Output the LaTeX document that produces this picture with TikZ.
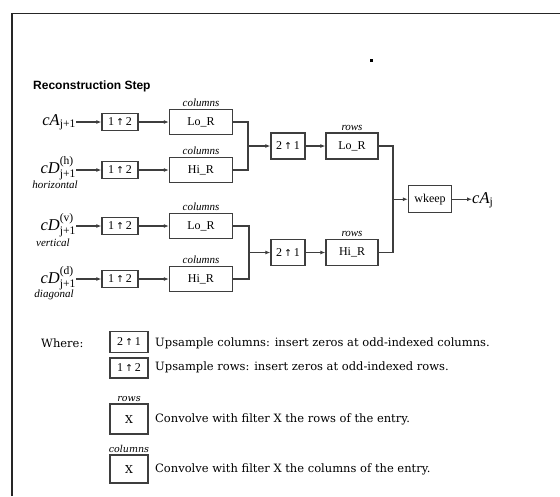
\documentclass[tikz,border=0pt]{standalone}
\usepackage{amsmath}
\usepackage{fontspec}
\setmainfont{Liberation Serif}
\setsansfont{Liberation Sans}
\newfontfamily\legfont{DejaVu Serif}
\newfontfamily\arrfont{DejaVu Sans}
\usetikzlibrary{arrows.meta,positioning,calc}
\definecolor{colTrait}{RGB}{62,62,62}
\newcommand{\upsm}[2]{#1\,{\arrfont\fontsize{9.5}{9.5}\selectfont ↑}\,#2}
\newcommand{\coefA}[2]{\textit{c#1}$_{\text{#2}}$}
\newcommand{\coefD}[2]{\textit{cD}$^{\text{(#1)}}_{\text{#2}}$}

\begin{document}
\begin{tikzpicture}[x=1pt,y=-1pt,
    font=\fontsize{11.5}{13}\selectfont,
    flt/.style={rectangle, draw=colTrait, line width=1.3pt, inner sep=0pt,
      minimum width=63pt, minimum height=25pt, font=\fontsize{12}{13}\selectfont},
    ups/.style={rectangle, draw=colTrait, line width=1.3pt, inner sep=0pt,
      minimum width=36pt, minimum height=17pt, font=\fontsize{12}{13}\selectfont},
    coef/.style={anchor=base east, inner sep=0pt, font=\fontsize{16.5}{18}\selectfont},
    sub/.style={font=\itshape\fontsize{11}{12}\selectfont, inner sep=0pt},
    lbl/.style={font=\itshape\fontsize{11}{12}\selectfont, inner sep=0pt,
      anchor=south, yshift=2pt},
    ln/.style={colTrait, line width=1.3pt},
    fl/.style={ln, -{Latex[length=5pt,width=4pt]}},
    leg/.style={font=\legfont\fontsize{11.5}{13}\selectfont, anchor=west, inner sep=0pt}]
  \useasboundingbox (0,0) rectangle (560,496);
  % cadre
  \draw[line width=1.5pt, black!85] (12,496) -- (12,13.5) -- (560,13.5);
  \fill (370,59) rectangle (372.5,61.5);
  \node[font=\sffamily\bfseries\fontsize{12}{14}\selectfont, anchor=west,
    inner sep=0pt] (titre) at (33,86) {Reconstruction Step};

  % entrees
  \node[coef] (inA) at (76,125) {\coefA{A}{j+1}};
  \node[coef] (inH) at (76,173) {\coefD{h}{j+1}};
  \node[coef] (inV) at (76,230) {\coefD{v}{j+1}};
  \node[coef] (inD) at (76,283) {\coefD{d}{j+1}};
  \node[sub] (tH) at (55,185) {horizontal};
  \node[sub] (tV) at (53,243) {vertical};
  \node[sub] (tD) at (54,295) {diagonal};

  % sur-echantillonnage lignes
  \node[ups] (u1) at (120,122) {\upsm{1}{2}};
  \node[ups] (u2) at (120,170) {\upsm{1}{2}};
  \node[ups] (u3) at (120,226) {\upsm{1}{2}};
  \node[ups] (u4) at (120,279) {\upsm{1}{2}};

  % filtres colonnes
  \node[flt] (f1) at (201,122) {Lo\_R};
  \node[flt] (f2) at (201,170) {Hi\_R};
  \node[flt] (f3) at (201,226) {Lo\_R};
  \node[flt] (f4) at (201,279) {Hi\_R};
  \foreach \n in {f1,f2,f3,f4}
    \node[lbl] at (\n.north) {columns};

  \draw[fl] (inA.east |- u1) -- (u1); \draw[fl] (u1) -- (f1);
  \draw[fl] (inH.east |- u2) -- (u2); \draw[fl] (u2) -- (f2);
  \draw[fl] (inV.east |- u3) -- (u3); \draw[fl] (u3) -- (f3);
  \draw[fl] (inD.east |- u4) -- (u4); \draw[fl] (u4) -- (f4);

  % sur-echantillonnage colonnes, filtres lignes
  \coordinate (m1) at (248,146);
  \coordinate (m2) at (249,252.5);
  \node[ups, minimum width=34pt, minimum height=26pt] (c1) at (288,146) {\upsm{2}{1}};
  \node[ups, minimum width=34pt, minimum height=26pt] (c2) at (288,252.5) {\upsm{2}{1}};
  \node[flt, minimum width=52pt, minimum height=26pt] (r1) at (352,146) {Lo\_R};
  \node[flt, minimum width=52pt, minimum height=26pt] (r2) at (352,252.5) {Hi\_R};
  \node[lbl] at (r1.north) {rows};
  \node[lbl] at (r2.north) {rows};

  \draw[ln] (f1.east) -| (m1) |- (f2.east);
  \draw[ln] (f3.east) -| (m2) |- (f4.east);
  \draw[fl] (m1) -- (c1); \draw[fl] (c1) -- (r1);
  \draw[fl] (m2) -- (c2); \draw[fl] (c2) -- (r2);

  % sortie
  \coordinate (m3) at (393,199.25);
  \node[flt, minimum width=43pt, minimum height=27pt] (wk) at (430,199.25) {wkeep};
  \node[coef, anchor=base west] (outA) at (472,203) {\coefA{A}{j}};
  \draw[ln] (r1.east) -| (m3) |- (r2.east);
  \draw[fl] (m3) -- (wk); \draw[fl] (wk) -- (outA.west |- wk);

  % legende
  \node[leg] (ou) at (41,343) {Where:};
  \node[ups, minimum width=38pt, minimum height=21pt] (l1) at (129,342) {\upsm{2}{1}};
  \node[ups, minimum width=38pt, minimum height=20pt] (l2) at (129,368) {\upsm{1}{2}};
  \node[ups, minimum width=38pt, minimum height=30pt,
    font=\legfont\fontsize{11}{12}\selectfont] (l3) at (129,419) {X};
  \node[ups, minimum width=38pt, minimum height=28pt,
    font=\legfont\fontsize{11}{12}\selectfont] (l4) at (129,469) {X};
  \node[lbl, font=\legfont\itshape\fontsize{9.5}{10}\selectfont] at (l3.north) {rows};
  \node[lbl, font=\legfont\itshape\fontsize{9.5}{10}\selectfont] at (l4.north) {columns};
  \node[leg] (t1) at (155,343) {Upsample columns: insert zeros at odd-indexed columns.};
  \node[leg] (t2) at (155,367) {Upsample rows: insert zeros at odd-indexed rows.};
  \node[leg] (t3) at (155,419) {Convolve with filter X the rows of the entry.};
  \node[leg] (t4) at (155,469) {Convolve with filter X the columns of the entry.};
\end{tikzpicture}
\end{document}
